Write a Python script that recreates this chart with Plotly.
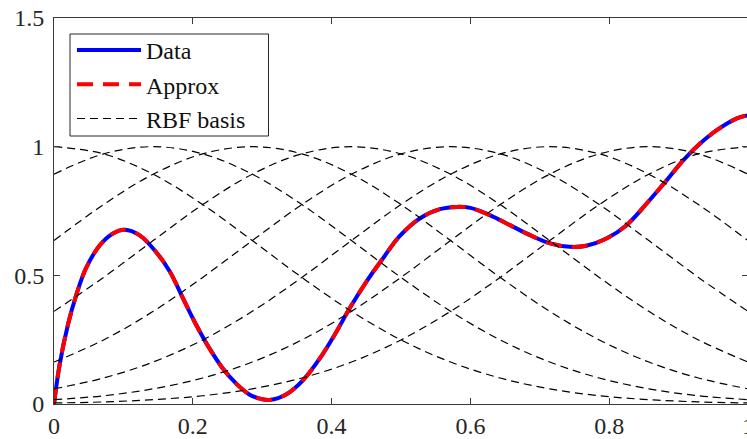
import plotly.graph_objects as go

# ---- data ----
DATA_X = [0.0, 0.008, 0.020, 0.032, 0.046, 0.066, 0.085, 0.102, 0.123, 0.147,
          0.167, 0.186, 0.205, 0.224, 0.243, 0.263, 0.282, 0.298, 0.311, 0.335,
          0.359, 0.383, 0.407, 0.426, 0.450, 0.474, 0.498, 0.527, 0.556, 0.580,
          0.600, 0.628, 0.657, 0.686, 0.715, 0.743, 0.767, 0.796, 0.825, 0.854,
          0.883, 0.907, 0.931, 0.955, 0.984, 1.0]
DATA_Y = [0.0, 0.151, 0.307, 0.423, 0.527, 0.617, 0.663, 0.677, 0.656, 0.591,
          0.514, 0.410, 0.307, 0.216, 0.139, 0.078, 0.036, 0.020, 0.016, 0.038,
          0.093, 0.177, 0.281, 0.372, 0.475, 0.566, 0.652, 0.721, 0.757, 0.766,
          0.762, 0.734, 0.695, 0.656, 0.624, 0.611, 0.615, 0.643, 0.695, 0.779,
          0.870, 0.948, 1.012, 1.064, 1.110, 1.122]
APPROX_Y = list(DATA_Y)

BASIS_X = [0.0, 0.0714, 0.1429, 0.2143, 0.2857, 0.3571, 0.4286, 0.5,
           0.5714, 0.6429, 0.7143, 0.7857, 0.8571, 0.9286, 1.0]
BASIS = [
    [1.000, 0.972, 0.893, 0.775, 0.635, 0.492, 0.360, 0.249, 0.163, 0.101, 0.059, 0.032, 0.017, 0.008, 0.004],
    [0.893, 0.972, 1.000, 0.972, 0.893, 0.775, 0.635, 0.492, 0.360, 0.249, 0.163, 0.101, 0.059, 0.032, 0.017],
    [0.635, 0.775, 0.893, 0.972, 1.000, 0.972, 0.893, 0.775, 0.635, 0.492, 0.360, 0.249, 0.163, 0.101, 0.059],
    [0.360, 0.492, 0.635, 0.775, 0.893, 0.972, 1.000, 0.972, 0.893, 0.775, 0.635, 0.492, 0.360, 0.249, 0.163],
    [0.163, 0.249, 0.360, 0.492, 0.635, 0.775, 0.893, 0.972, 1.000, 0.972, 0.893, 0.775, 0.635, 0.492, 0.360],
    [0.059, 0.101, 0.163, 0.249, 0.360, 0.492, 0.635, 0.775, 0.893, 0.972, 1.000, 0.972, 0.893, 0.775, 0.635],
    [0.017, 0.032, 0.059, 0.101, 0.163, 0.249, 0.360, 0.492, 0.635, 0.775, 0.893, 0.972, 1.000, 0.972, 0.893],
    [0.004, 0.008, 0.017, 0.032, 0.059, 0.101, 0.163, 0.249, 0.360, 0.492, 0.635, 0.775, 0.893, 0.972, 1.000],
]

X_TICKS = [0, 0.2, 0.4, 0.6, 0.8, 1]
X_TICK_TEXT = ["0", "0.2", "0.4", "0.6", "0.8", "1"]
Y_TICKS = [0, 0.5, 1, 1.5]
Y_TICK_TEXT = ["0", "0.5", "1", "1.5"]

FONT = "Liberation Serif, Times New Roman, serif"
AXIS_COLOR = "#3a3a3a"

fig = go.Figure()
fig.add_trace(go.Scatter(x=DATA_X, y=DATA_Y, mode="lines", name="Data",
                         line=dict(color="#0000ff", width=4, shape="spline")))
fig.add_trace(go.Scatter(x=DATA_X, y=APPROX_Y, mode="lines", name="Approx",
                         line=dict(color="#ff0000", width=4, shape="spline",
                                   dash="16px,10px")))
for i, row in enumerate(BASIS):
    fig.add_trace(go.Scatter(x=BASIS_X, y=row, mode="lines", name="RBF basis",
                             showlegend=(i == 0), legendgroup="basis",
                             line=dict(color="black", width=1.2, shape="spline",
                                       dash="8px,5px")))

axis_common = dict(showgrid=False, zeroline=False, showline=True,
                   linecolor=AXIS_COLOR, linewidth=1, mirror="ticks",
                   ticks="inside", ticklen=6, tickcolor=AXIS_COLOR, tickwidth=1,
                   ticklabeloverflow="allow", automargin=False,
                   tickfont=dict(family=FONT, size=24, color="#262626"))

# plot area in pixels: left 54, width 694, bottom 404, height 386
PW, PH = 694, 386
fig.add_shape(type="rect", xref="paper", yref="paper", layer="above",
              x0=(70 - 54) / PW, x1=(268.5 - 54) / PW,
              y0=(404 - 136) / PH, y1=(404 - 34) / PH,
              line=dict(color="#262626", width=1), fillcolor="white")

fig.update_layout(
    width=748, height=439,
    margin=dict(l=54, r=0, t=18, b=35),
    paper_bgcolor="white", plot_bgcolor="white",
    font=dict(family=FONT, size=24, color="#111111"),
    xaxis=dict(range=[0, 1], tickvals=X_TICKS, ticktext=X_TICK_TEXT, **axis_common),
    yaxis=dict(range=[0, 1.5], tickvals=Y_TICKS, ticktext=Y_TICK_TEXT,
               ticklabelstandoff=4, **axis_common),
    legend=dict(x=(72 - 54) / PW, y=(404 - 28) / PH, xanchor="left", yanchor="top",
                bgcolor="rgba(0,0,0,0)", borderwidth=0,
                font=dict(family=FONT, size=24, color="#111111"),
                itemwidth=64, tracegroupgap=0),
    showlegend=True,
)

fig.write_html("out.html", config={"displayModeBar": False})

# remove the browser's default page margin so the figure sits at the top-left corner
with open("out.html", "r", encoding="utf-8") as f:
    html = f.read()
html = html.replace("<head>", "<head><style>html,body{margin:0;padding:0;overflow:hidden;}</style>", 1)
with open("out.html", "w", encoding="utf-8") as f:
    f.write(html)
